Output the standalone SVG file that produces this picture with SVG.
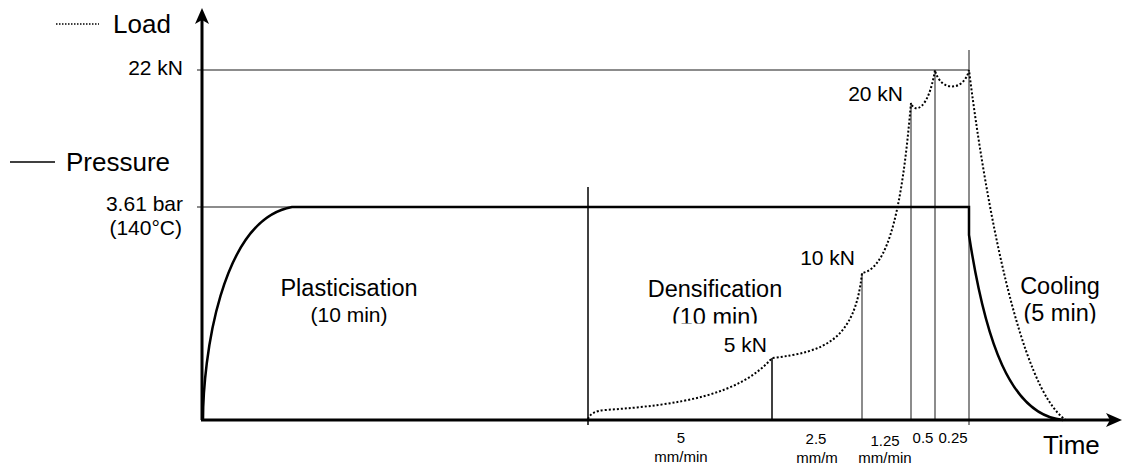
<svg xmlns="http://www.w3.org/2000/svg" width="1122" height="468" viewBox="0 0 1122 468">
<style>
text{font-family:"Liberation Sans",Arial,sans-serif;fill:#000}
.big{font-size:26px}
.lbl{font-size:21px}
.phase{font-size:23.5px;text-anchor:middle}
.rate{font-size:15px;text-anchor:middle}
.axis{stroke:#000;stroke-width:3;fill:none}
.ref{stroke:#666;stroke-width:1.5;fill:none}
.vk{stroke:#000;stroke-width:1.5;fill:none}
.vg{stroke:#666;stroke-width:1.5;fill:none}
.press{stroke:#000;stroke-width:2.5;fill:none}
.load{stroke:#000;stroke-width:2;stroke-dasharray:2 2;fill:none}
</style>
<defs>
<clipPath id="clipPhase"><rect x="0" y="0" width="1122" height="323.5"/></clipPath>
</defs>
<rect width="1122" height="468" fill="#fff"/>
<g id="legend">
<line x1="56" y1="24" x2="99" y2="24" stroke="#000" stroke-width="1.5" stroke-dasharray="1.5 1.5"/>
<text class="big" x="113" y="33">Load</text>
<line x1="10" y1="162" x2="55" y2="162" stroke="#000" stroke-width="1.5"/>
<text class="big" x="66" y="171">Pressure</text>
</g>
<g id="reference-lines">
<line class="ref" x1="197" y1="70" x2="969" y2="70"/>
<line class="ref" x1="197" y1="207" x2="292" y2="207"/>
<line class="vk" x1="588" y1="187" x2="588" y2="425"/>
<line class="vk" x1="772" y1="358" x2="772" y2="420"/>
<line class="vg" x1="862" y1="273" x2="862" y2="420"/>
<line class="vg" x1="911" y1="103" x2="911" y2="420"/>
<line class="vg" x1="935" y1="70" x2="935" y2="420"/>
<line class="vg" x1="969" y1="50" x2="969" y2="425"/>
</g>
<g id="pressure-curve">
<path class="press" d="M203,420 C203,360 220,220 292,207 L969,207 L969,235 C985,340 1010,415 1063,420"/>
</g>
<g id="load-curve">
<path class="load" d="M588,419 Q591,411 605,410 C680,405 740,395 772,358 C825,352 855,340 862,273 C895,268 905,170 911,103 C914,113 928,112 935,70 C940,92 964,92 969,70 C985,200 1020,390 1066,420"/>
</g>
<g id="axes">
<line class="axis" x1="202" y1="420" x2="202" y2="18"/>
<line class="axis" x1="201" y1="420" x2="1112" y2="420"/>
<path d="M202,8 L209,24 L202,20 L195,24 Z" fill="#000"/>
<path d="M1122,420 L1106,413 L1110,420 L1106,427 Z" fill="#000"/>
</g>
<g id="axis-labels">
<text class="lbl" x="183" y="75" text-anchor="end">22 kN</text>
<text class="lbl" x="183" y="211" text-anchor="end">3.61 bar</text>
<text class="lbl" x="182" y="235" text-anchor="end">(140°C)</text>
<text class="big" x="1043" y="454">Time</text>
</g>
<g id="load-labels">
<text class="lbl" x="767" y="352" text-anchor="end">5 kN</text>
<text class="lbl" x="855" y="265" text-anchor="end">10 kN</text>
<text class="lbl" x="903" y="101" text-anchor="end">20 kN</text>
</g>
<g id="phase-plasticisation">
<text class="phase" x="349" y="296">Plasticisation</text>
<text class="phase" x="349" y="322" style="font-size:21px">(10 min)</text>
</g>
<g id="phase-densification" clip-path="url(#clipPhase)">
<text class="phase" x="715" y="297">Densification</text>
<text class="phase" x="715" y="325">(10 min)</text>
</g>
<g id="phase-cooling" clip-path="url(#clipPhase)">
<text class="phase" x="1060" y="294">Cooling</text>
<text class="phase" x="1060" y="321">(5 min)</text>
</g>
<g id="rate-labels">
<text class="rate" x="681" y="443">5</text>
<text class="rate" x="681" y="462">mm/min</text>
<text class="rate" x="816" y="444">2.5</text>
<text class="rate" x="817" y="463">mm/m</text>
<text class="rate" x="885" y="446">1.25</text>
<text class="rate" x="885" y="463">mm/min</text>
<text class="rate" x="923" y="443">0.5</text>
<text class="rate" x="953" y="443">0.25</text>
</g>
</svg>
